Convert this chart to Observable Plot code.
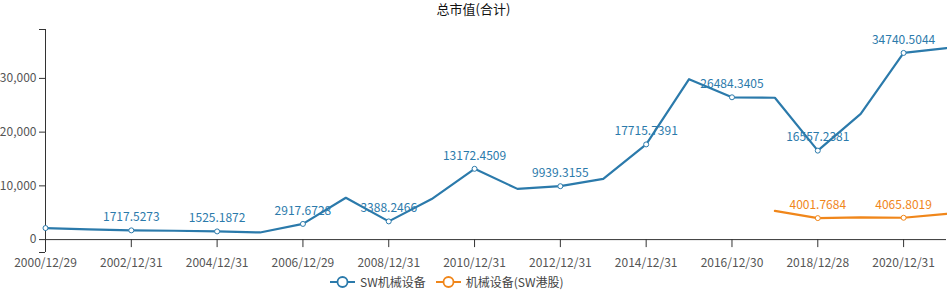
<!DOCTYPE html>
<html><head><meta charset="utf-8">
<script src="https://cdn.jsdelivr.net/npm/d3@7"></script>
<script src="https://cdn.jsdelivr.net/npm/@observablehq/plot@0.6"></script>
<style>
body{margin:0;background:#fff;font-family:"Noto Sans CJK SC","Noto Sans",sans-serif;}
#wrap{position:relative;width:947px;height:291px;}
#title{position:absolute;top:0;left:0;width:947px;text-align:center;font-size:13px;color:#111;line-height:18px;}
#chart{position:absolute;top:0;left:0;}
#legend{position:absolute;top:273px;left:330px;display:flex;gap:10px;font-size:12px;color:#444;line-height:18px;}
#legend span{display:flex;align-items:center;gap:5px;}
</style></head>
<body><div id="wrap"><div id="chart"></div><div id="title">总市值(合计)</div><div id="legend"></div></div>
<script>
const categories = ["2000/12/29","2001/12/31","2002/12/31","2003/12/31","2004/12/31","2005/12/30","2006/12/29","2007/12/28","2008/12/31","2009/12/31","2010/12/31","2011/12/30","2012/12/31","2013/12/31","2014/12/31","2015/12/31","2016/12/30","2017/12/29","2018/12/28","2019/12/31","2020/12/31","2021/12/31"];
const swMachinery = [2150,1900,1717.5273,1650,1525.1872,1330,2917.6728,7780,3388.2466,7550,13172.4509,9440,9939.3155,11300,17715.7391,29850,26484.3405,26400,16557.2381,23400,34740.5044,35650];
const hkMachinery = [null,null,null,null,null,null,null,null,null,null,null,null,null,null,null,null,null,5350,4001.7684,4150,4065.8019,4800];
const tickLabels = ["2000/12/29","2002/12/31","2004/12/31","2006/12/29","2008/12/31","2010/12/31","2012/12/31","2014/12/31","2016/12/30","2018/12/28","2020/12/31"];
const yTicks = [0,10000,20000,30000];
const yMin = -2400, yMax = 39100;
const seriesNames = ["SW机械设备","机械设备(SW港股)"];
const colors = ["#2b7aab","#f0861a"];

const rows = [];
categories.forEach((c,i)=>{
  rows.push({cat:c, i, s:seriesNames[0], v:swMachinery[i]});
  if (hkMachinery[i] != null) rows.push({cat:c, i, s:seriesNames[1], v:hkMachinery[i]});
});
const marked = rows.filter(d => d.i % 2 === 0 && d.i !== 21);
const labeled = marked.filter(d => d.i !== 0);

const W = 947, H = 291, mT = 29, mB = 39;
const zeroShift = -(0 - yMin) / (yMax - yMin) * (H - mT - mB);

const chart = Plot.plot({
  width: W, height: H,
  marginLeft: 45, marginRight: 1, marginTop: mT, marginBottom: mB,
  inset: 0,
  x: {type:"point", domain: categories, padding: 0, round: false, label: null},
  y: {domain:[yMin, yMax], label: null},
  color: {domain: seriesNames, range: colors},
  style: {fontFamily:'"Noto Sans CJK SC","Noto Sans",sans-serif', fontSize:"12px", color:"#444"},
  marks: [
    Plot.axisY({ticks: yTicks, tickFormat: d3.format(","), tickSize: 6, tickPadding: 3, fontSize: 12, stroke:"#333", fill:"#555", label: null}),
    Plot.axisY({ticks: [yMin, yMax], tickSize: 6, stroke:"#333", text: null, label: null}),
    Plot.ruleX([categories[0]], {stroke:"#333"}),
    Plot.ruleY([0], {stroke:"#333"}),
    Plot.axisX({ticks: tickLabels, tickSize: 8, tickPadding: 11, fontSize: 12, stroke:"#333", fill:"#555", dy: zeroShift, label: null}),
    Plot.line(rows, {x:"cat", y:"v", z:"s", stroke: d=>d.s, strokeWidth: 2.2, curve:"linear"}),
    Plot.dot(marked, {x:"cat", y:"v", r: 2.5, stroke: d=>d.s, fill:"white", strokeWidth: 1}),
    Plot.text(labeled, {x:"cat", y:"v", text: d=>String(d.v), dy: -13, fill: d=>d.s, fontSize: 12})
  ]
});
document.getElementById("chart").appendChild(chart);

const lg = document.getElementById("legend");
seriesNames.forEach((n,k)=>{
  const s = document.createElement("span");
  s.innerHTML = `<svg width="25" height="14"><line x1="0" y1="7" x2="25" y2="7" stroke="${colors[k]}" stroke-width="2"/><circle cx="12.5" cy="7" r="5" fill="white" stroke="${colors[k]}" stroke-width="1.8"/></svg>${n}`;
  lg.appendChild(s);
});
</script></body></html>
